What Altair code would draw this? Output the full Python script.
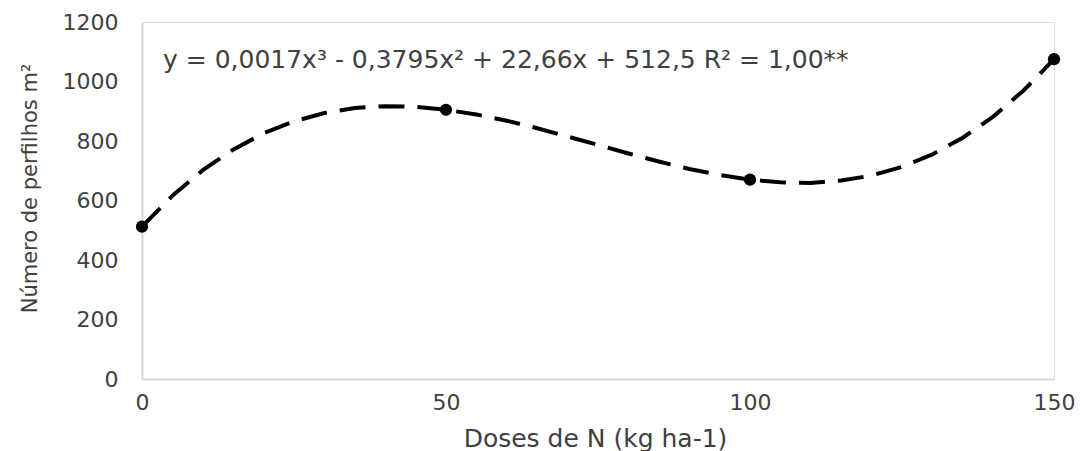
import altair as alt
import pandas as pd

# Observed points
doses = [0, 50, 100, 150]
perfilhos = [512, 905, 670, 1075]

# Fitted curve (every 5 kg ha-1)
curve_x = [0, 5, 10, 15, 20, 25, 30, 35, 40, 45, 50, 55, 60, 65, 70, 75,
           80, 85, 90, 95, 100, 105, 110, 115, 120, 125, 130, 135, 140, 145, 150]
curve_y = [512, 616, 702, 771, 826, 866, 894, 911, 917, 915, 905, 889, 868, 843, 815, 787,
           758, 731, 706, 686, 670, 661, 659, 667, 684, 713, 755, 811, 882, 970, 1075]

equation = "y = 0,0017x³ - 0,3795x² + 22,66x + 512,5 R² = 1,00**"

pts = pd.DataFrame({"x": doses, "y": perfilhos})
crv = pd.DataFrame({"x": curve_x, "y": curve_y})

FONT = "DejaVu Sans"
TXT = "#404040"

xs = alt.Scale(domain=[0, 150], nice=False, zero=False)
ys = alt.Scale(domain=[0, 1200], nice=False)

xax = alt.Axis(values=[0, 50, 100, 150], title="Doses de N (kg ha-1)", grid=False,
               ticks=False, domainColor="#d9d9d9", domainWidth=2, format="d",
               labelFont=FONT, labelFontSize=22, labelColor=TXT, labelPadding=13,
               labelFlush=False,
               titleFont=FONT, titleFontSize=25, titleFontWeight="normal", titleColor=TXT,
               titleX=453, titleY=59, titleAlign="center", titleBaseline="middle")
yax = alt.Axis(values=[0, 200, 400, 600, 800, 1000, 1200], title="Número de perfilhos m²",
               grid=False, ticks=False, domainColor="#d9d9d9", domainWidth=2, format="d",
               labelFont=FONT, labelFontSize=22, labelColor=TXT, labelPadding=24,
               titleFont=FONT, titleFontSize=21, titleFontWeight="normal", titleColor=TXT,
               titleX=-112, titleY=166, titleAngle=270, titleAlign="center",
               titleBaseline="middle")

line = alt.Chart(crv).mark_line(color="black", strokeWidth=4, strokeDash=[26, 13]).encode(
    x=alt.X("x:Q", scale=xs, axis=xax),
    y=alt.Y("y:Q", scale=ys, axis=yax),
)

points = alt.Chart(pts).mark_circle(color="black", opacity=1, size=150).encode(
    x=alt.X("x:Q", scale=xs),
    y=alt.Y("y:Q", scale=ys),
)

eq = alt.Chart(pd.DataFrame({"t": [equation]})).mark_text(
    align="left", baseline="middle", font=FONT, fontSize=25, color=TXT
).encode(
    x=alt.value(21), y=alt.value(38), text="t:N"
)

chart = alt.layer(line, points, eq).properties(
    width=912, height=357,
    autosize=alt.AutoSizeParams(type="none"),
    padding={"left": 142, "top": 22, "right": 28, "bottom": 72},
).configure_view(stroke=None).configure(background="white")

chart.save("out.html", embed_options={"renderer": "svg", "actions": False})
